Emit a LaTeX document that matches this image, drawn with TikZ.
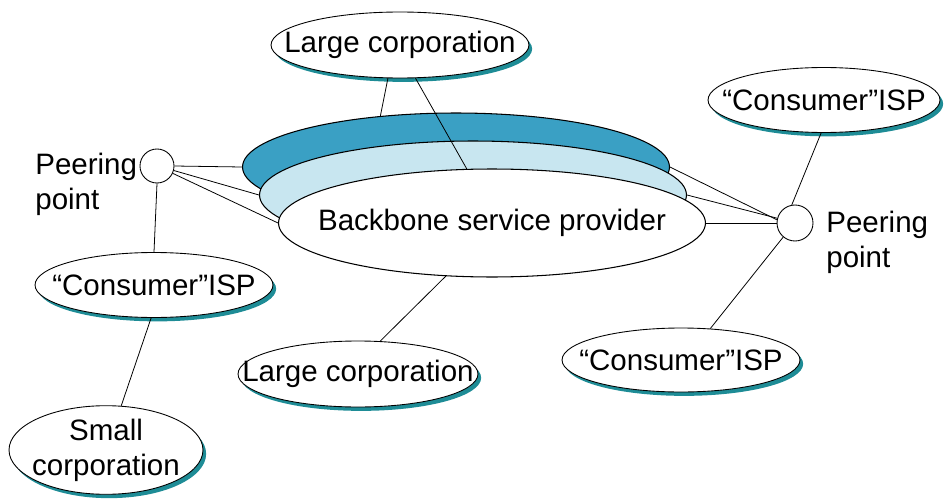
\documentclass[tikz,border=0pt]{standalone}
\usepackage{fontspec}
\setmainfont{Liberation Sans}
\usetikzlibrary{shapes.geometric,shadows}
\definecolor{bandDark}{RGB}{58,160,196}
\definecolor{bandLight}{RGB}{200,230,240}
\definecolor{shadowTeal}{RGB}{30,140,150}

% text that does not widen its ellipse
\newcommand{\inell}[1]{\makebox[0pt]{#1}}

\tikzset{
  org/.style={ellipse, draw, fill=white, inner sep=0pt, line width=0.5pt,
    font=\fontsize{16.8}{20}\selectfont, align=center,
    drop shadow={shadow xshift=1.8pt, shadow yshift=-2.2pt, fill=shadowTeal, opacity=1}},
  layer/.style={ellipse, draw, inner sep=0pt, line width=0.6pt,
    minimum width=8.54cm, minimum height=2.16cm},
  peer/.style={circle, draw, fill=white, inner sep=0pt, line width=0.5pt},
  peerlabel/.style={anchor=north west, align=left, inner sep=0pt,
    font=\fontsize{16.8}{19.5}\selectfont},
  link/.style={draw, line width=0.45pt}
}

\begin{document}
\begin{tikzpicture}[x=0.02cm, y=-0.02cm]
  \useasboundingbox (0,0) rectangle (946,500);

  % backbone, three layers
  \node[layer, fill=bandDark]  (bbDark)   at (456,167) {};
  \node[layer, fill=bandLight] (bbLight)  at (473,195) {};
  \node[layer, fill=white, font=\fontsize{16.8}{20}\selectfont] (backbone) at (492,223) {\inell{Backbone service provider}};

  % customers
  \node[org, minimum width=5.16cm, minimum height=1.32cm] (lcTop)    at (400,45)  {\inell{Large corporation}};
  \node[org, minimum width=4.8cm,  minimum height=1.32cm] (lcBottom) at (358,374) {\inell{Large corporation}};
  \node[org, minimum width=4.64cm, minimum height=1.3cm]  (ispTR)    at (824,100) {\inell{“Consumer”ISP}};
  \node[org, minimum width=4.76cm, minimum height=1.28cm] (ispBR)    at (681,360) {\inell{“Consumer”ISP}};
  \node[org, minimum width=4.76cm, minimum height=1.3cm]  (ispLeft)  at (154,285) {\inell{“Consumer”ISP}};
  \node[org, minimum width=3.88cm, minimum height=1.7cm]  (small)    at (106,450) {\inell{Small}\\\inell{corporation}};

  % peering points
  \node[peer, minimum size=0.68cm] (ppLeft)  at (157,166) {};
  \node[peer, minimum size=0.72cm] (ppRight) at (795,223) {};
  \node[peerlabel] (ppLeftLbl)  at (35,153)  {Peering\\point};
  \node[peerlabel] (ppRightLbl) at (826,211) {Peering\\point};

  % links
  \path[link] (ppLeft.east) -- (bbDark.west);
  \path[link] (ppLeft.-15)  -- (bbLight.west);
  \path[link] (ppLeft.-25)  -- (backbone.west);
  \path[link] (backbone.east) -- (ppRight.west);
  \path[link] (bbLight.east)  -- (ppRight.165);
  \path[link] (bbDark.east)   -- (ppRight.170);
  \path[link] (lcTop.250) -- (bbDark.146);
  \path[link] (lcTop.295) -- (backbone.115);
  \path[link] (lcBottom.56) -- (backbone.229);
  \path[link] (ispTR.265) -- (ppRight.100);
  \path[link] (ispBR.47)  -- (ppRight.230);
  \path[link] (ppLeft.south) -- (ispLeft.north);
  \path[link] (ispLeft.265)  -- (small.71);
\end{tikzpicture}
\end{document}
